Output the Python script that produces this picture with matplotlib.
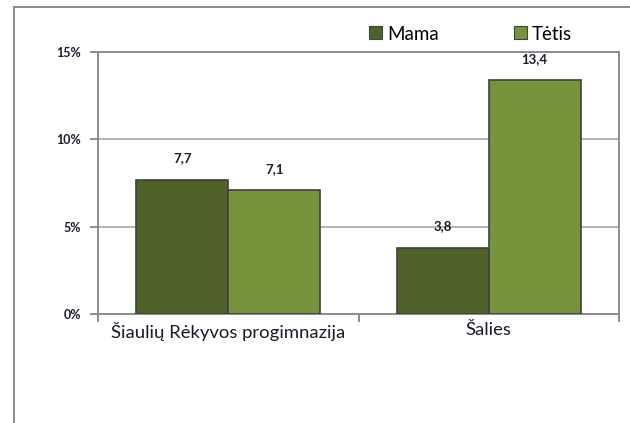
import matplotlib
matplotlib.use("Agg")
import matplotlib.pyplot as plt
import numpy as np
from matplotlib.patches import Rectangle, Patch

categories = ["Šiaulių Rėkyvos progimnazija", "Šalies"]
series_names = ["Mama", "Tėtis"]
mama = [7.7, 3.8]
tetis = [7.1, 13.4]
mama_labels = ["7,7", "3,8"]
tetis_labels = ["7,1", "13,4"]
yticks = [0, 5, 10, 15]
ytick_labels = ["0%", "5%", "10%", "15%"]

colors = ["#4F6228", "#77933C"]
edge = "#404040"
txt = "#1A1A2A"

plt.rcParams['font.family'] = ['Lato', 'DejaVu Sans']

fig = plt.figure(figsize=(6.3, 4.23), dpi=100)
W, H = 630, 423

# outer chart frame
fig.patches.append(Rectangle((14 / W, -0.1), 1.0, (423 - 7) / H + 0.1,
                             transform=fig.transFigure, fill=False,
                             edgecolor="#8C8C8C", linewidth=1.4))

ax = fig.add_axes([98 / W, (H - 314) / H, (619 - 98) / W, (314 - 52) / H])
x = np.arange(len(categories))
bw = 0.353
b1 = ax.bar(x - bw / 2, mama, bw, color=colors[0], edgecolor=edge, linewidth=1.2, zorder=3)
b2 = ax.bar(x + bw / 2, tetis, bw, color=colors[1], edgecolor=edge, linewidth=1.2, zorder=3)

for bars, labels in ((b1, mama_labels), (b2, tetis_labels)):
    for rect, lab in zip(bars, labels):
        ax.annotate(lab, (rect.get_x() + rect.get_width() / 2, rect.get_height()),
                    xytext=(0, 11), textcoords="offset points", ha="center", va="bottom",
                    fontsize=9.5, fontweight="bold", color=txt)

ax.set_xlim(-0.5, 1.5)
ax.set_ylim(0, 15)
ax.set_yticks(yticks)
ax.set_yticklabels(ytick_labels, fontsize=9, fontweight="bold", color=txt)
ax.yaxis.grid(True, color="#A6A6A6", linewidth=1.2, zorder=0)
ax.set_axisbelow(True)

ax.set_xticks([-0.5, 0.5, 1.5])
ax.set_xticklabels([])
ax.set_xticks(x, minor=True)
ax.set_xticklabels(categories, minor=True, fontsize=13.3, color=txt)
ax.tick_params(axis="x", which="minor", length=0, pad=6)
ax.tick_params(axis="x", which="major", length=6, color="#8C8C8C", width=1.4)
ax.tick_params(axis="y", length=6, color="#8C8C8C", width=1.4, pad=6)

for s in ax.spines.values():
    s.set_color("#8C8C8C")
    s.set_linewidth(1.4)

handles = [Patch(facecolor=colors[0], edgecolor=edge, linewidth=0.8),
           Patch(facecolor=colors[1], edgecolor=edge, linewidth=0.8)]
fig.legend(handles, series_names, loc="center left",
           bbox_to_anchor=(369 / W, 1 - 34 / H), ncol=2, frameon=False,
           fontsize=13.5, handlelength=0.7, handleheight=0.7, handletextpad=0.25,
           columnspacing=4.0, borderaxespad=0, borderpad=0)

fig.savefig("out.png", dpi=100)
